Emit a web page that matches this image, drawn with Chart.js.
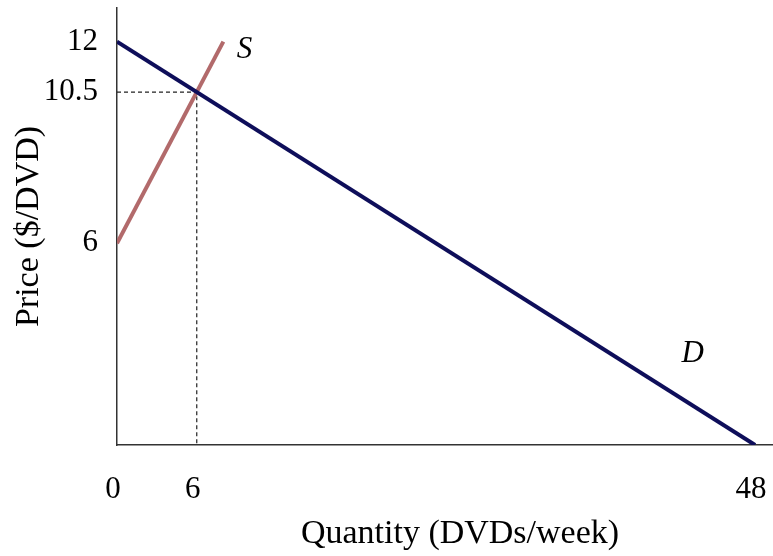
<!DOCTYPE html>
<html>
<head>
<meta charset="utf-8">
<script src="https://cdn.jsdelivr.net/npm/chart.js@4.4.1/dist/chart.umd.min.js"></script>
<style>
  html, body { margin: 0; padding: 0; background: #fff; }
  #wrap { width: 773px; height: 556px; }
</style>
</head>
<body>
<div id="wrap"><canvas id="market"></canvas></div>
<script>
// Market for DVDs: demand and supply lines
const demandQty = [0, 48];
const demandPrice = [12, 0];
const supplyQty = [0, 8];
const supplyPrice = [6, 12];

// equilibrium guides
const guideQty = [0, 6, 6];
const guidePrice = [10.5, 10.5, 0];

// tick labels shown on the axes
const xTicks = [0, 6, 48];
const yTicks = [6, 10.5, 12];

// curve names and where they sit
const curveNames = ['S', 'D'];
const nameQty = [9.6, 43.3];
const namePrice = [11.75, 2.7];

const serif = "'Liberation Serif', 'Times New Roman', serif";

function toPoints(xs, ys) {
    return xs.map((x, i) => ({ x: x, y: ys[i] }));
}

// draws the S / D names and the x axis title
const annotations = {
    id: 'annotations',
    afterDraw(chart) {
        const ctx = chart.ctx;
        const xs = chart.scales.x;
        const ys = chart.scales.y;
        ctx.save();
        ctx.fillStyle = '#000';
        ctx.textAlign = 'center';
        ctx.textBaseline = 'middle';
        ctx.font = 'italic 31px ' + serif;
        curveNames.forEach((name, i) => {
            ctx.fillText(name, xs.getPixelForValue(nameQty[i]), ys.getPixelForValue(namePrice[i]));
        });
        ctx.textBaseline = 'alphabetic';
        ctx.font = '34px ' + serif;
        ctx.fillText('Quantity (DVDs/week)', 460, 543);
        ctx.restore();
    }
};

const ctx = document.getElementById('market').getContext('2d');
new Chart(ctx, {
    type: 'scatter',
    data: {
        datasets: [
            {
                label: 'Demand',
                data: toPoints(demandQty, demandPrice),
                showLine: true,
                borderColor: '#0e0e5a',
                borderWidth: 4,
                pointRadius: 0
            },
            {
                label: 'Supply',
                data: toPoints(supplyQty, supplyPrice),
                showLine: true,
                borderColor: '#b26a6b',
                borderWidth: 4,
                pointRadius: 0
            },
            {
                label: 'Equilibrium',
                data: toPoints(guideQty, guidePrice),
                showLine: true,
                borderColor: '#222',
                borderWidth: 1.2,
                borderDash: [4, 3],
                pointRadius: 0
            }
        ]
    },
    options: {
        responsive: true,
        maintainAspectRatio: false,
        animation: false,
        layout: { padding: { top: 8, right: 0, left: 0, bottom: 0 } },
        plugins: {
            legend: { display: false },
            tooltip: { enabled: false }
        },
        scales: {
            x: {
                type: 'linear',
                min: 0,
                max: 49.35,
                afterFit: (scale) => {
                    scale.height = 111;
                    scale.paddingLeft = 0;
                    scale.paddingRight = 0;
                },
                afterBuildTicks: (scale) => { scale.ticks = xTicks.map(v => ({ value: v })); },
                grid: { display: false, drawTicks: false },
                border: { display: true, color: '#333', width: 1.5 },
                ticks: {
                    padding: 26,
                    labelOffset: -4,
                    color: '#000',
                    font: { family: serif, size: 31 }
                }
            },
            y: {
                type: 'linear',
                min: 0,
                max: 13,
                afterFit: (scale) => {
                    scale.width = 117;
                    scale.paddingTop = 0;
                    scale.paddingBottom = 0;
                },
                afterBuildTicks: (scale) => { scale.ticks = yTicks.map(v => ({ value: v })); },
                grid: { display: false, drawTicks: false },
                border: { display: true, color: '#333', width: 1.5 },
                ticks: {
                    padding: 19,
                    color: '#000',
                    font: { family: serif, size: 31 }
                },
                title: {
                    display: true,
                    text: 'Price ($/DVD)',
                    color: '#000',
                    font: { family: serif, size: 34 },
                    padding: { top: 9, bottom: 0 }
                }
            }
        }
    },
    plugins: [annotations]
});
</script>
</body>
</html>
